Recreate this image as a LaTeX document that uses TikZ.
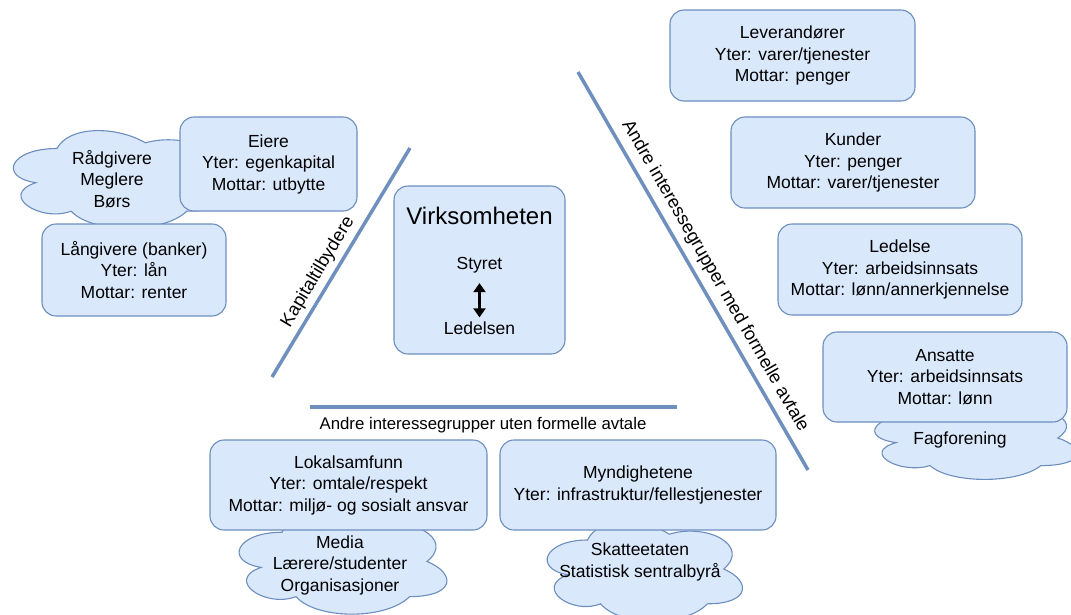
\documentclass[tikz,border=0pt]{standalone}
\usepackage{fontspec}
\setmainfont{Liberation Sans}
\usetikzlibrary{arrows.meta}
\definecolor{bfill}{HTML}{DAE8FC}
\definecolor{bstroke}{HTML}{6C8EBF}
\definecolor{lcol}{HTML}{6F8FBF}
\tikzset{
  gbox/.style={draw=bstroke, fill=bfill, rounded corners=14pt, line width=1.1pt,
    align=center, inner sep=0pt, font=\fontsize{17.5}{21.5}\selectfont},
  cloudline/.style={draw=bstroke, fill=bfill, line width=1.1pt},
  ctext/.style={align=center, inner sep=0pt, font=\fontsize{17.5}{21.5}\selectfont},
  sepline/.style={draw=lcol, line width=3.5pt},
  lbl/.style={font=\fontsize{16.8}{20}\selectfont, inner sep=0pt},
  dlbl/.style={font=\fontsize{18.3}{21}\selectfont, inner sep=0pt},
  plain/.style={font=\fontsize{17.5}{21.5}\selectfont, inner sep=1pt}
}
% draw.io style cloud outline: x0, y0, w, h (y downwards)
\newcommand\mycloud[4]{%
\path[cloudline] ({#1+0.25*#3},{#2+0.25*#4})
 .. controls ({#1+0.05*#3},{#2+0.25*#4}) and ({#1},{#2+0.5*#4}) .. ({#1+0.16*#3},{#2+0.55*#4})
 .. controls ({#1},{#2+0.66*#4}) and ({#1+0.18*#3},{#2+0.9*#4}) .. ({#1+0.31*#3},{#2+0.8*#4})
 .. controls ({#1+0.4*#3},{#2+#4}) and ({#1+0.7*#3},{#2+#4}) .. ({#1+0.8*#3},{#2+0.8*#4})
 .. controls ({#1+#3},{#2+0.8*#4}) and ({#1+#3},{#2+0.6*#4}) .. ({#1+0.875*#3},{#2+0.5*#4})
 .. controls ({#1+#3},{#2+0.3*#4}) and ({#1+0.8*#3},{#2+0.1*#4}) .. ({#1+0.625*#3},{#2+0.2*#4})
 .. controls ({#1+0.5*#3},{#2+0.05*#4}) and ({#1+0.3*#3},{#2+0.05*#4}) .. ({#1+0.25*#3},{#2+0.25*#4})
 -- cycle;}
\begin{document}
\begin{tikzpicture}[x=1pt,y=-1pt]
\useasboundingbox (0,0) rectangle (1071,614);
% clouds (behind boxes)
\mycloud{-2}{120}{236}{114}
\node[ctext] (rad) at (112,179) {Rådgivere\\Meglere\\Børs};
\mycloud{860}{392}{226}{92}
\node[ctext] (fag) at (960,440) {Fagforening};
\mycloud{224}{503}{232}{117}
\node[ctext] (media) at (340,565) {Media\\Lærere/studenter\\Organisasjoner};
\mycloud{533}{511}{218}{116}
\node[ctext] (skatt) at (640,562) {Skatteetaten\\Statistisk sentralbyrå};
% boxes
\node[gbox, minimum width=245pt, minimum height=91pt] (lev) at (792.5,55.5) {Leverandører\\Yter: varer/tjenester\\Mottar: penger};
\node[gbox, minimum width=244pt, minimum height=91pt] (kun) at (853,162.5) {Kunder\\Yter: penger\\Mottar: varer/tjenester};
\node[gbox, minimum width=244pt, minimum height=91pt] (led) at (900,269.5) {Ledelse\\Yter: arbeidsinnsats\\Mottar: lønn/annerkjennelse};
\node[gbox, minimum width=244pt, minimum height=90pt] (ans) at (945,377) {Ansatte\\Yter: arbeidsinnsats\\Mottar: lønn};
\node[gbox, minimum width=177pt, minimum height=94pt] (eie) at (268.5,164) {Eiere\\Yter: egenkapital\\Mottar: utbytte};
\node[gbox, minimum width=184pt, minimum height=92pt] (lan) at (134,270) {Långivere (banker)\\Yter: lån\\Mottar: renter};
\node[gbox, minimum width=277pt, minimum height=90pt] (lok) at (348.5,485) {Lokalsamfunn\\Yter: omtale/respekt\\Mottar: miljø- og sosialt ansvar};
\node[gbox, minimum width=276pt, minimum height=90pt] (myn) at (638,485) {Myndighetene\\Yter: infrastruktur/fellestjenester};
% central box
\node[gbox, minimum width=171pt, minimum height=168pt] (virk) at (479.5,270) {};
\node[font=\fontsize{24}{28}\selectfont, inner sep=0pt] (virkt) at (479.5,216) {Virksomheten};
\node[plain] (styret) at (479.5,265) {Styret};
\node[plain] (ledelsen) at (479.5,328) {Ledelsen};
\draw[line width=2.2pt, {Triangle[length=9pt,width=12pt]}-{Triangle[length=9pt,width=12pt]}]
  ([yshift=-9pt]styret.south) -- ([yshift=3pt]ledelsen.north);
% separator lines
\coordinate (k1) at (410,148); \coordinate (k2) at (272,377);
\draw[sepline] (k1) -- (k2);
\node[dlbl, rotate=59] (kap) at (318,272) {Kapitaltilbydere};
\coordinate (m1) at (578,72); \coordinate (m2) at (808,470);
\draw[sepline] (m1) -- (m2);
\node[dlbl, rotate=-60] (med) at (715,276) {Andre interessegrupper med formelle avtale};
\coordinate (u1) at (310,407); \coordinate (u2) at (677,407);
\draw[sepline] (u1) -- (u2);
\node[lbl] (uten) at (483,425) {Andre interessegrupper uten formelle avtale};
\end{tikzpicture}
\end{document}
